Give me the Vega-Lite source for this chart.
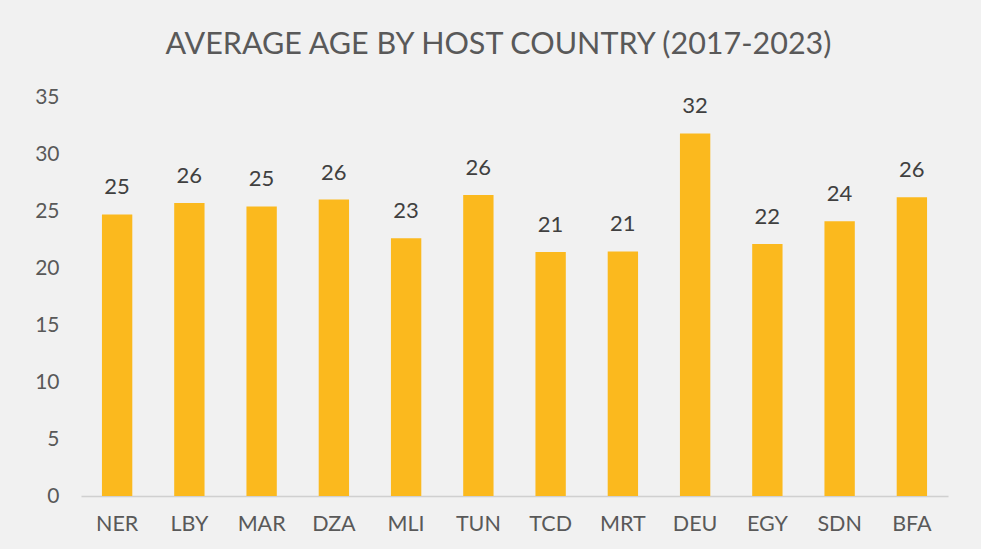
{
  "$schema": "https://vega.github.io/schema/vega-lite/v6.json",
  "width": 867,
  "height": 399,
  "autosize": {"type": "none"},
  "padding": {"left": 81, "top": 97, "right": 33, "bottom": 53},
  "background": "#F1F1F1",
  "config": {
    "view": {"stroke": null},
    "font": "Lato"
  },
  "title": {
    "text": "AVERAGE AGE BY HOST COUNTRY (2017-2023)",
    "font": "Lato",
    "fontSize": 30.5,
    "fontWeight": "normal",
    "color": "#595959",
    "anchor": "middle",
    "dx": -16,
    "offset": 26
  },
  "data": {
    "values": [
      {"country": "NER", "age": 24.7},
      {"country": "LBY", "age": 25.7},
      {"country": "MAR", "age": 25.4},
      {"country": "DZA", "age": 26.0},
      {"country": "MLI", "age": 22.6},
      {"country": "TUN", "age": 26.4},
      {"country": "TCD", "age": 21.4},
      {"country": "MRT", "age": 21.45},
      {"country": "DEU", "age": 31.8},
      {"country": "EGY", "age": 22.1},
      {"country": "SDN", "age": 24.1},
      {"country": "BFA", "age": 26.2}
    ]
  },
  "encoding": {
    "x": {
      "field": "country",
      "type": "nominal",
      "sort": null,
      "scale": {"paddingInner": 0.58, "paddingOuter": 0.29},
      "axis": {
        "title": null,
        "labelAngle": 0,
        "labelFontSize": 21.5,
        "labelColor": "#595959",
        "labelPadding": 17,
        "ticks": false,
        "domainColor": "#D0D0D0",
        "domainWidth": 1.5
      }
    },
    "y": {
      "field": "age",
      "type": "quantitative",
      "scale": {"domain": [0, 35], "nice": false},
      "axis": {
        "title": null,
        "values": [0, 5, 10, 15, 20, 25, 30, 35],
        "grid": false,
        "domain": false,
        "ticks": false,
        "labelFontSize": 21,
        "labelColor": "#595959",
        "labelPadding": 22
      }
    }
  },
  "layer": [
    {"mark": {"type": "bar", "color": "#FBB91E"}},
    {
      "mark": {"type": "text", "dy": -15, "fontSize": 22, "color": "#404040", "baseline": "bottom"},
      "encoding": {"text": {"field": "age", "type": "quantitative", "format": ".0f"}}
    }
  ]
}
